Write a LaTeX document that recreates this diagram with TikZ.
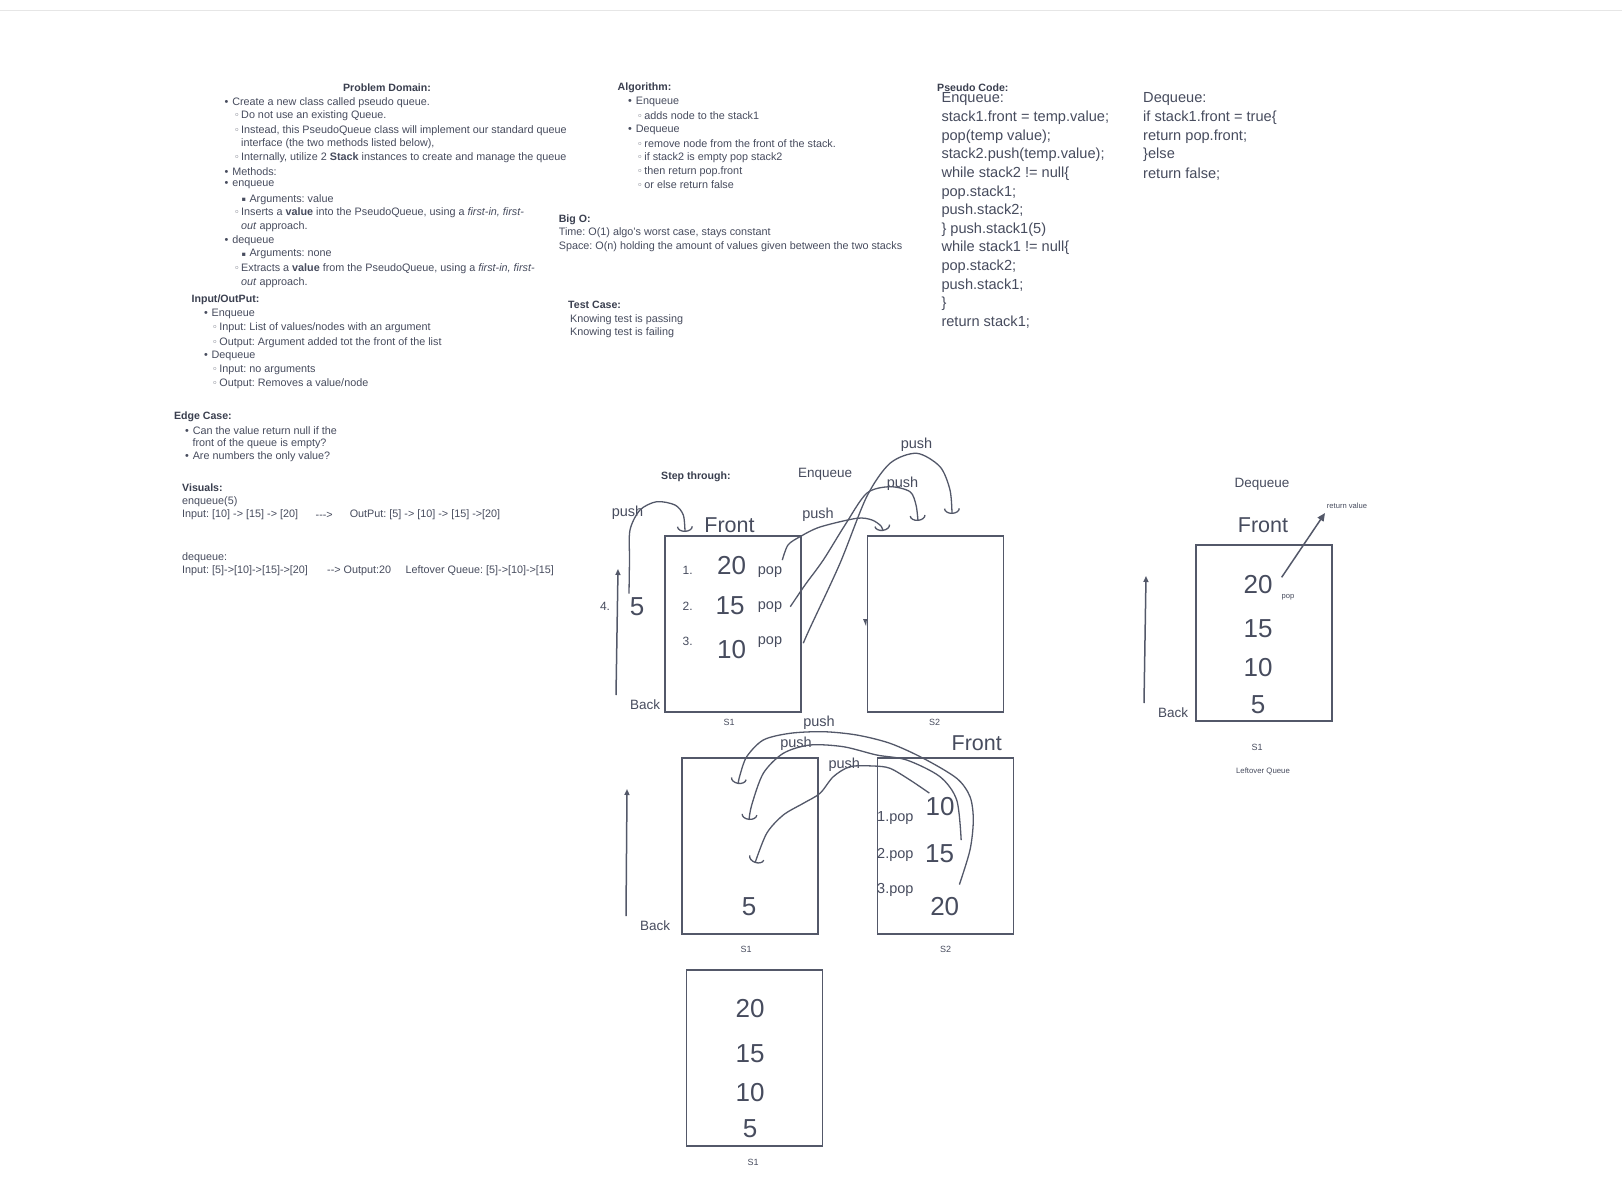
\documentclass[tikz,border=0pt]{standalone}
\usepackage{fontspec}
\setmainfont{Liberation Sans}
\newfontfamily\symfont{DejaVu Sans}
\usetikzlibrary{arrows.meta, positioning}
\definecolor{ink}{HTML}{474C5E}
\definecolor{inkdark}{HTML}{3A3F4F}
\definecolor{wire}{HTML}{535869}
\definecolor{rulegray}{HTML}{E6E6E6}
\frenchspacing
\newcommand{\fs}[1]{\fontsize{#1}{#1}\selectfont}
\newcommand{\bA}{\makebox[7.6pt][l]{\textbullet}}
\newcommand{\bB}{\makebox[7.2pt][l]{\symfont\fs{9.5}◦}}
\newcommand{\bC}{\makebox[7.8pt][l]{\raisebox{0.6pt}{\symfont\fs{6.5}▪}}}

\begin{document}
\begin{tikzpicture}[x=1pt, y=-1pt,
    txt/.style={anchor=west, inner sep=0pt, text=ink, font=\fs{10.8}},
    hd/.style={anchor=west, inner sep=0pt, text=inkdark, font=\fs{10.6}\bfseries},
    code/.style={anchor=west, inner sep=0pt, text=ink, font=\fs{14.6}},
    num/.style={inner sep=0pt, text=ink, font=\fs{26}},
    idx/.style={inner sep=0pt, text=ink, font=\fs{12}},
    lbl/.style={inner sep=0pt, text=ink, font=\fs{14.5}},
    front/.style={inner sep=0pt, text=ink, font=\fs{21.5}},
    small/.style={inner sep=0pt, text=ink, font=\fs{9}},
    tiny/.style={inner sep=0pt, text=ink, font=\fs{7.6}},
    stackbox/.style={draw=wire, line width=1.7pt, minimum width=136pt, minimum height=176pt, inner sep=0pt},
    hand/.style={draw=wire, line width=1.3pt, -{Arc Barb[length=5.5pt, width=16pt]}},
    uparr/.style={draw=wire, line width=1.5pt, -{Triangle[length=6pt, width=5pt]}}
  ]
  \useasboundingbox (0,0) rectangle (1622,1196);
  \fill[white] (0,0) rectangle (1622,1196);
  \draw[rulegray, line width=1.6pt] (0,10.7) -- (1622,10.7);

  % problem domain
  \node[hd, anchor=center] (pdhead) at (387,88) {Problem Domain:};
  \foreach \x/\y/\t [count=\i] in {
      224.5/102.4/{\bA Create a new class called pseudo queue.},
      233.8/115.8/{\bB Do not use an existing Queue.},
      233.8/130.3/{\bB Instead, this PseudoQueue class will implement our standard queue},
      241/143.7/{interface (the two methods listed below),},
      233.8/158.2/{\bB Internally, utilize 2 \textbf{Stack} instances to create and manage the queue},
      224.5/171.7/{\bA Methods:},
      224.5/185.1/{\bA enqueue},
      241.5/199.6/{\bC Arguments: value},
      233.8/213/{\bB Inserts a \textbf{value} into the PseudoQueue, using a \textit{first-in, first-}},
      241/226.5/{\textit{out} approach.},
      224.5/241/{\bA dequeue},
      241.5/254.4/{\bC Arguments: none},
      233.8/268.9/{\bB Extracts a \textbf{value} from the PseudoQueue, using a \textit{first-in, first-}},
      241/282.4/{\textit{out} approach.}}
    {\node[txt] (pd\i) at (\x,\y) {\t};}

  % input / output
  \node[hd] (iohead) at (191.4,300) {Input/OutPut:};
  \foreach \x/\y/\t [count=\i] in {
      203.8/314.4/{\bA Enqueue},
      212/327.9/{\bB Input: List of values/nodes with an argument},
      212/342.4/{\bB Output: Argument added tot the front of the list},
      203.8/355.8/{\bA Dequeue},
      212/370.3/{\bB Input: no arguments},
      212/383.7/{\bB Output: Removes a value/node}}
    {\node[txt] (io\i) at (\x,\y) {\t};}

  % edge case
  \node[hd] (echead) at (173.8,416.8) {Edge Case:};
  \foreach \x/\y/\t [count=\i] in {
      185/430.3/{\bA Can the value return null if the},
      192.4/443.7/{front of the queue is empty?},
      185/457.2/{\bA Are numbers the only value?}}
    {\node[txt] (ec\i) at (\x,\y) {\t};}

  % visuals
  \node[hd] (vishead) at (182,488.2) {Visuals:};
  \node[txt] (vis1) at (182,501.6) {enqueue(5)};
  \node[txt] (vis2) at (182,515.1) {Input: [10] -> [15] -> [20]};
  \node[txt] (vis3) at (315.5,515.1) {-{}-{}->};
  \node[txt] (vis4) at (349.6,515.1) {OutPut: [5] -> [10] -> [15] ->[20]};
  \node[txt] (vis5) at (182,557.5) {dequeue:};
  \node[txt] (vis6) at (182,571) {Input: [5]->[10]->[15]->[20]};
  \node[txt] (vis7) at (327,571) {-{}-> Output:20};
  \node[txt] (vis8) at (405.5,571) {Leftover Queue: [5]->[10]->[15]};

  % algorithm, big o, test case
  \node[hd] (alghead) at (617.5,88) {Algorithm:};
  \foreach \x/\y/\t [count=\i] in {
      628/102.4/{\bA Enqueue},
      637/115.8/{\bB adds node to the stack1},
      628/130.3/{\bA Dequeue},
      637/143.7/{\bB remove node from the front of the stack.},
      637/158.2/{\bB if stack2 is empty pop stack2},
      637/171.7/{\bB then return pop.front},
      637/185.1/{\bB or else return false}}
    {\node[txt] (alg\i) at (\x,\y) {\t};}
  \node[hd] (bighead) at (558.6,219.3) {Big O:};
  \node[txt] (big1) at (558.6,232.7) {Time: O(1) algo's worst case, stays constant};
  \node[txt] (big2) at (558.6,247.2) {Space: O(n) holding the amount of values given between the two stacks};
  \node[hd] (testhead) at (568,305) {Test Case:};
  \node[txt] (test1) at (570,319.6) {Knowing test is passing};
  \node[txt] (test2) at (570,333) {Knowing test is failing};

  % pseudo code
  \node[hd] (pchead) at (937,88) {Pseudo Code:};
  \foreach \t [count=\i] in {Enqueue:, {stack1.front = temp.value;}, {pop(temp value);},
      {stack2.push(temp.value);}, {while stack2 != null\{}, pop.stack1;, push.stack2;,
      {\} push.stack1(5)}, {while stack1 != null\{}, pop.stack2;, push.stack1;, \}, {return stack1;}}
    {\node[code] (enq\i) at (941.3,80.7+18.6*\i) {\t};}
  \foreach \t [count=\i] in {Dequeue:, {if stack1.front = true\{}, {return pop.front;}, {\}else}, {return false;}}
    {\node[code] (deq\i) at (1143,80.7+18.6*\i) {\t};}

  % step through: enqueue, first stage
  \node[hd] (step) at (661,477) {Step through:};
  \node[lbl, anchor=west, font=\fs{13.5}] (enqtitle) at (798,474) {Enqueue};
  \node[stackbox] (s1a) at (733,624) {};
  \node[stackbox] (s2a) at (935.5,624) {};
  \node[small, below=6pt of s1a, xshift=-4pt] (s1alab) {S1};
  \node[small, below=6pt of s2a, xshift=-1pt] (s2alab) {S2};
  \node[front] (fr1) at (729.5,525) {Front};
  \node[lbl, font=\fs{13.5}] (back1) at (645,704.5) {Back};
  \node[idx] (i4) at (605,606.5) {4.};
  \node[num] (n5) at (637,607) {5};
  \node[idx] (i1) at (687.7,570) {1.};
  \node[idx] (i2) at (687.7,606.7) {2.};
  \node[idx] (i3) at (687.7,641.7) {3.};
  \node[num] (v20) at (731.7,566) {20};
  \node[num] (v15) at (730,605.7) {15};
  \node[num] (v10) at (731.7,650) {10};
  \node[lbl] (pop1) at (770,571.7) {pop};
  \node[lbl] (pop2) at (770,606.7) {pop};
  \node[lbl] (pop3) at (770,641.7) {pop};
  \node[lbl] (push0) at (627.5,513) {push};
  \node[lbl] (push1) at (818,515) {push};
  \node[lbl] (push2) at (902.5,483.5) {push};
  \node[lbl] (push3) at (916.5,444.5) {push};
  \coordinate (ua0) at (616,695);
  \coordinate (ua1) at (618,569);
  \coordinate (t0) at (685,532);
  \coordinate (t1) at (883,531);
  \coordinate (t2) at (918,521);
  \coordinate (t3) at (952,514);
  \draw[uparr] (ua0) -- (ua1);
  \draw[hand] plot[smooth] coordinates {([xshift=-8pt,yshift=4pt]n5.north) (629.5,560) (630,530)
      (640,510) (656.7,501.7) (675,505) (683.3,515) (t0)};
  \draw[hand] plot[smooth] coordinates {([yshift=6pt]pop1.north east) (788,545) (800,536.7)
      (820,527) (856.7,518.3) (872,520) (881,526) (t1)};
  \draw[hand] plot[smooth] coordinates {([xshift=8pt]pop2.east) (805,585) (823.3,560) (845,525)
      (866.7,493.3) (890,486.7) (910,491.7) (916,505) (t2)};
  \draw[hand] plot[smooth] coordinates {([xshift=21pt,yshift=-1.5pt]pop3.east) (810,628) (840,563.3)
      (866.7,496.7) (890,463.3) (916.7,453.3) (940,466.7) (950,490) (t3)};
  \fill[wire] (863,619) -- (867,619) -- (866,626) -- cycle;

  % step through: second stage
  \node[stackbox] (s1b) at (750,846) {};
  \node[stackbox] (s2b) at (945.5,846) {};
  \node[small, below=11pt of s1b, xshift=-4pt] (s1blab) {S1};
  \node[small, below=11pt of s2b] (s2blab) {S2};
  \node[front] (fr2) at (976.7,743.5) {Front};
  \node[lbl, font=\fs{13.5}] (back2) at (655,925.5) {Back};
  \node[num] (l5) at (749,907) {5};
  \node[num] (l10) at (940,806.5) {10};
  \node[num] (l15) at (939.5,853.4) {15};
  \node[num] (l20) at (944.7,907) {20};
  \node[lbl, anchor=west] (lp1) at (877,818.5) {1.pop};
  \node[lbl, anchor=west] (lp2) at (877,854.5) {2.pop};
  \node[lbl, anchor=west] (lp3) at (877,889.8) {3.pop};
  \node[lbl] (push4) at (819,723.2) {push};
  \node[lbl] (push5) at (796,743.8) {push};
  \node[lbl] (push6) at (844.3,764.8) {push};
  \coordinate (ub0) at (626,916);
  \coordinate (ub1) at (627,789);
  \coordinate (ta) at (755,863);
  \coordinate (tb) at (749,820);
  \coordinate (tc) at (738,784);
  \draw[uparr] (ub0) -- (ub1);
  \draw[hand] plot[smooth] coordinates {([xshift=4pt,yshift=4pt]l10.north west) (910,780) (890,768.3)
      (873.3,766) (850,766.7) (833.3,776.7) (820,793.3) (803.3,803.3) (783.3,815) (766.7,833.3) (ta)};
  \draw[hand] plot[smooth] coordinates {([xshift=7pt,yshift=4pt]l15.north east) (956.7,800) (940,776.7)
      (906.7,760) (876.7,755) (843.3,746.7) (810,745) (783.3,753.3) (763.3,773.3) (751.7,805) (tb)};
  \draw[hand] plot[smooth] coordinates {([yshift=13pt]l20.north east) (970,850) (973.3,820) (970,796.7)
      (956.7,778.3) (923.3,758.3) (890,743.3) (856.7,735) (823.3,731.7) (790,733.3) (763.3,740)
      (746.7,756.7) (740,775) (tc)};

  % resulting stack
  \node[stackbox] (s1c) at (754.5,1058) {};
  \node[small, below=12pt of s1c, xshift=-1.5pt] (s1clab) {S1};
  \node[num] (c20) at (750,1009) {20};
  \node[num] (c15) at (750,1054) {15};
  \node[num] (c10) at (750,1093) {10};
  \node[num] (c5) at (750,1129) {5};

  % dequeue
  \node[lbl, font=\fs{13.5}] (deqtitle) at (1262,484) {Dequeue};
  \node[front] (fr3) at (1263,525.2) {Front};
  \node[stackbox] (s1d) at (1264,633) {};
  \node[small, below=22pt of s1d, xshift=-7pt] (s1dlab) {S1};
  \node[tiny, font=\fs{7.8}] (leftq) at (1263,771.5) {Leftover Queue};
  \node[num] (r20) at (1258,584.7) {20};
  \node[num] (r15) at (1258,629) {15};
  \node[num] (r10) at (1258,667.7) {10};
  \node[num] (r5) at (1258,704.2) {5};
  \node[tiny] (rpop) at (1288,597.5) {pop};
  \node[tiny] (rval) at (1347,505.5) {return value};
  \node[lbl, font=\fs{13.5}] (back3) at (1173,712.5) {Back};
  \coordinate (uc0) at (1144,703);
  \coordinate (uc1) at (1146,576);
  \coordinate (rv) at (1325,513);
  \draw[uparr] (uc0) -- (uc1);
  \draw[draw=wire, line width=1.5pt, -{Triangle[length=8pt, width=7pt]}]
    ([xshift=9pt,yshift=-2pt]r20.north east) -- (rv);
\end{tikzpicture}
\end{document}
